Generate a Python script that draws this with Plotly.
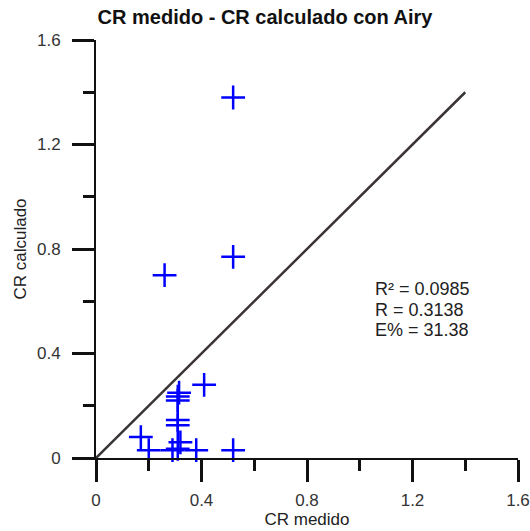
import plotly.graph_objects as go

# Data
cr_medido = [0.52, 0.52, 0.26, 0.41, 0.315, 0.31, 0.31, 0.31, 0.31, 0.32, 0.31, 0.29, 0.17, 0.20, 0.38, 0.52]
cr_calculado = [1.38, 0.77, 0.70, 0.28, 0.25, 0.235, 0.22, 0.145, 0.125, 0.06, 0.035, 0.03, 0.08, 0.03, 0.03, 0.03]
line_x = [0, 1.4]
line_y = [0, 1.4]
stats_labels = ["R² = 0.0985", "R = 0.3138", "E% = 31.38"]
stats_y = [0.645, 0.567, 0.49]
stats_x = 1.05
tick_vals = [0, 0.4, 0.8, 1.2, 1.6]
tick_text = ["0", "0.4", "0.8", "1.2", "1.6"]

FONT = "Liberation Sans, Arial, sans-serif"

fig = go.Figure()
fig.add_trace(go.Scatter(x=line_x, y=line_y, mode="lines",
                         line=dict(color="#3b3434", width=2.5), showlegend=False))
fig.add_trace(go.Scatter(x=cr_medido, y=cr_calculado, mode="markers",
                         marker=dict(symbol="cross-thin", size=17,
                                     line=dict(color="#0000ff", width=2.5)),
                         cliponaxis=False, showlegend=False))

for txt, yy in zip(stats_labels, stats_y):
    fig.add_annotation(x=stats_x, y=yy, text=txt, showarrow=False,
                       xanchor="left", yanchor="middle",
                       font=dict(family=FONT, size=18, color="#222"))

axis_common = dict(
    range=[0, 1.6], tickvals=tick_vals, ticktext=tick_text,
    ticks="outside", ticklen=22, tickwidth=2.5, tickcolor="#111",
    minor=dict(dtick=0.2, ticks="outside", ticklen=11, tickwidth=2.5, tickcolor="#111"),
    showline=True, linecolor="#111", linewidth=2,
    showgrid=False, zeroline=False,
    tickfont=dict(family=FONT, size=17, color="#333"),
)

fig.update_layout(
    width=530, height=531,
    margin=dict(l=96, r=12, t=40, b=73, autoexpand=False),
    paper_bgcolor="white", plot_bgcolor="white",
    title=dict(text="<b>CR medido - CR calculado con Airy</b>", x=0.5, xanchor="center",
               y=0.968, yanchor="middle",
               font=dict(family=FONT, size=20, color="#111")),
    xaxis=dict(**axis_common, ticklabelstandoff=4,
               title=dict(text="CR medido", standoff=2,
                          font=dict(family=FONT, size=17, color="#222"))),
    yaxis=dict(**axis_common, ticklabelstandoff=8,
               title=dict(text="CR calculado", standoff=6,
                          font=dict(family=FONT, size=17, color="#222"))),
)

fig.write_html("out.html", config={"displayModeBar": False},
               post_script="document.body.style.margin='0';")
